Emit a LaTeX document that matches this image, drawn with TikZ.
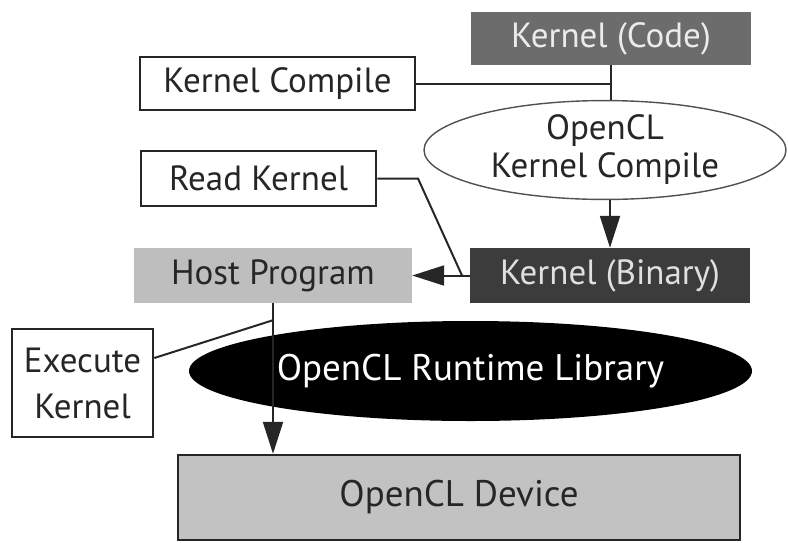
\documentclass[tikz,border=0pt]{standalone}
\usepackage{fontspec}
\setmainfont{PT Sans}
\usetikzlibrary{arrows.meta,shapes.geometric,calc}
\definecolor{ink}{HTML}{262626}
\definecolor{codegray}{HTML}{6C6C6C}
\definecolor{bingray}{HTML}{3C3C3C}
\definecolor{hostgray}{HTML}{BEBEBE}
\definecolor{devgray}{HTML}{C2C2C2}
\begin{document}
\begin{tikzpicture}[x=1pt,y=-1pt,
  every node/.style={font=\fontsize{35}{40}\selectfont, text=ink, inner sep=0pt, align=center},
  bigtext/.style={font=\fontsize{37}{42}\selectfont},
  labelbox/.style={draw=ink, line width=2.6pt, fill=white},
  conn/.style={draw=ink, line width=2pt},
  arr/.style={conn, -{Triangle[length=32pt,width=20pt]}}]
\useasboundingbox (0,0) rectangle (788,542);
% boxes and ellipses
\node[fill=codegray, text=white!92!black, minimum width=280pt, minimum height=53pt] (code) at (611,38.5) {Kernel (Code)};
\node[labelbox, minimum width=275pt, minimum height=53pt] (kcomp) at (277.5,83.5) {Kernel Compile};
\node[ellipse, draw=ink!80, line width=1.4pt, fill=white, minimum width=362pt, minimum height=98pt] (occ) at (605,150) {OpenCL\\[-2pt]Kernel Compile};
\node[labelbox, minimum width=235pt, minimum height=55pt] (read) at (258.5,178.5) {Read Kernel};
\node[fill=hostgray, minimum width=278pt, minimum height=55pt] (host) at (273,275.5) {Host Program};
\node[fill=bingray, text=white!88!black, minimum width=280pt, minimum height=55pt] (bin) at (610,275.5) {Kernel (Binary)};
\node[ellipse, fill=black, text=white, bigtext, minimum width=563pt, minimum height=100pt] (rt) at (470.5,371) {OpenCL Runtime Library};
\node[labelbox, minimum width=141pt, minimum height=108pt] (exec) at (82.5,383) {Execute\\[6pt]Kernel};
\node[draw=ink, line width=2.4pt, fill=devgray, bigtext, minimum width=562pt, minimum height=85pt] (dev) at (459,497.5) {OpenCL Device};
% connectors
\draw[conn] (code.south) -- (code.south |- occ.north);
\draw[conn] (kcomp.east) -- (kcomp.east -| code.south);
\draw[arr] (bin.north |- occ.south) -- (bin.north);
\draw[arr] (bin.west) -- (host.east);
\coordinate (rkA) at (418,178.5);
\coordinate (rkB) at (462,275.5);
\draw[conn] (read.east) -- (rkA) -- (rkB);
\draw[arr] (host.south) -- (host.south |- dev.north);
\coordinate (exB) at ($(host.south)+(0,17)$);
\draw[conn] ($(exec.east)+(0,-25)$) -- (exB);
\end{tikzpicture}
\end{document}
